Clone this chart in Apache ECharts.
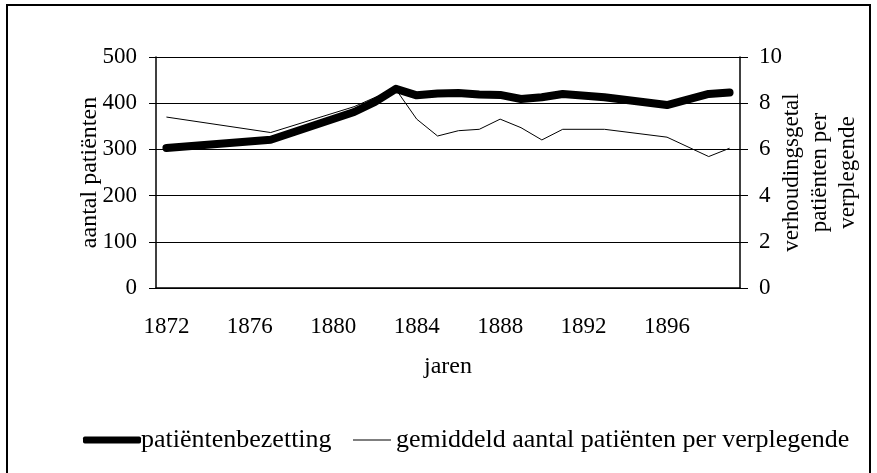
<!DOCTYPE html>
<html>
<head>
<meta charset="utf-8">
<script src="https://cdn.jsdelivr.net/npm/echarts@6/dist/echarts.min.js"></script>
<style>
  html, body { margin: 0; padding: 0; background: #fff; }
  #chart { width: 877px; height: 473px; }
</style>
</head>
<body>
<div id="chart"></div>
<script>
// jaren 1872 - 1899
const years = [];
for (let y = 1872; y <= 1899; y++) years.push(String(y));

// patiëntenbezetting (linker as)
const bezetting = [
  303, null, null, null, null, 321, null, null, null, 381,
  403, 431, 417, 421, 422, 419, 418, 409, 413, 420,
  null, 413, null, null, 396, null, 420, 423
];

// gemiddeld aantal patiënten per verplegende (rechter as)
const perVerplegende = [
  7.4, null, null, null, null, 6.73, null, null, null, 7.85,
  8.25, 8.6, 7.31, 6.58, 6.81, 6.87, 7.31, 6.94, 6.41, 6.87,
  null, 6.87, null, null, 6.53, null, 5.69, 6.05
];

const serif = '"Liberation Serif", "Times New Roman", serif';
const fs = 23;
const fsTitle = 24;
const fsLegend = 26;

const chart = echarts.init(document.getElementById('chart'));
const option = {
  animation: false,
  textStyle: { fontFamily: serif, fontSize: fs, color: '#000' },
  grid: { left: 156, right: 137, top: 57, bottom: 185, containLabel: false },
  graphic: [
    {
      type: 'rect',
      shape: { x: 7, y: 5, width: 863, height: 520 },
      style: { fill: 'none', stroke: '#000', lineWidth: 2 },
      silent: true
    }
  ],
  legend: [
    {
      data: ['patiëntenbezetting'],
      left: 78, top: 422,
      icon: 'roundRect',
      itemWidth: 58, itemHeight: 7, itemGap: 0,
      textStyle: { fontFamily: serif, fontSize: fsLegend, color: '#000', padding: [0, 0, 0, -5] }
    },
    {
      data: ['gemiddeld aantal patiënten per verplegende'],
      left: 348, top: 422,
      icon: 'rect',
      itemWidth: 38, itemHeight: 1,
      textStyle: { fontFamily: serif, fontSize: fsLegend, color: '#000' }
    }
  ],
  xAxis: [
    {
      type: 'category',
      data: years,
      boundaryGap: true,
      name: 'jaren',
      nameLocation: 'middle',
      nameGap: 67,
      nameMoveOverlap: false,
      nameTextStyle: { fontFamily: serif, fontSize: fsTitle, color: '#000' },
      axisLine: { lineStyle: { color: '#000', width: 1.5 } },
      axisTick: { interval: 3, length: 7, lineStyle: { color: '#000' } },
      axisLabel: { interval: 3, margin: 27, fontFamily: serif, fontSize: fs, color: '#000' }
    },
    {
      type: 'category',
      data: years,
      boundaryGap: true,
      position: 'bottom',
      axisLine: { show: false },
      axisTick: { interval: 3, inside: true, length: 6, lineStyle: { color: '#000' } },
      axisLabel: { show: false }
    }
  ],
  yAxis: [
    {
      type: 'value',
      min: 0, max: 500, interval: 100,
      name: 'aantal patiënten',
      nameLocation: 'middle',
      nameGap: 54,
      nameRotate: 90,
      nameMoveOverlap: false,
      nameTextStyle: { fontFamily: serif, fontSize: fsTitle, color: '#000' },
      axisLine: { show: true, lineStyle: { color: '#000', width: 1.5 } },
      axisTick: { show: true, length: 7, lineStyle: { color: '#000' } },
      axisLabel: { margin: 19, fontFamily: serif, fontSize: fs, color: '#000' },
      splitLine: { show: true, lineStyle: { color: '#000', width: 1 } }
    },
    {
      type: 'value',
      min: 0, max: 10, interval: 2,
      position: 'right',
      name: 'verhoudingsgetal\npatiënten per\nverplegende',
      nameLocation: 'middle',
      nameGap: 38,
      nameRotate: 90,
      nameMoveOverlap: false,
      nameTextStyle: { fontFamily: serif, fontSize: 23, color: '#000', lineHeight: 28, align: 'center' },
      axisLine: { show: true, lineStyle: { color: '#000', width: 1.5 } },
      axisTick: { show: true, length: 8, lineStyle: { color: '#000' } },
      axisLabel: { margin: 19, fontFamily: serif, fontSize: fs, color: '#000' },
      splitLine: { show: false }
    }
  ],
  series: [
    {
      name: 'patiëntenbezetting',
      type: 'line',
      data: bezetting,
      yAxisIndex: 0,
      connectNulls: true,
      showSymbol: false,
      symbol: 'none',
      itemStyle: { color: '#000' },
      lineStyle: { color: '#000', width: 8, cap: 'round', join: 'round' },
      z: 2
    },
    {
      name: 'gemiddeld aantal patiënten per verplegende',
      type: 'line',
      data: perVerplegende,
      yAxisIndex: 1,
      connectNulls: true,
      showSymbol: false,
      symbol: 'none',
      itemStyle: { color: '#000' },
      lineStyle: { color: '#000', width: 1 },
      z: 3
    }
  ]
};
chart.setOption(option);
</script>
</body>
</html>
